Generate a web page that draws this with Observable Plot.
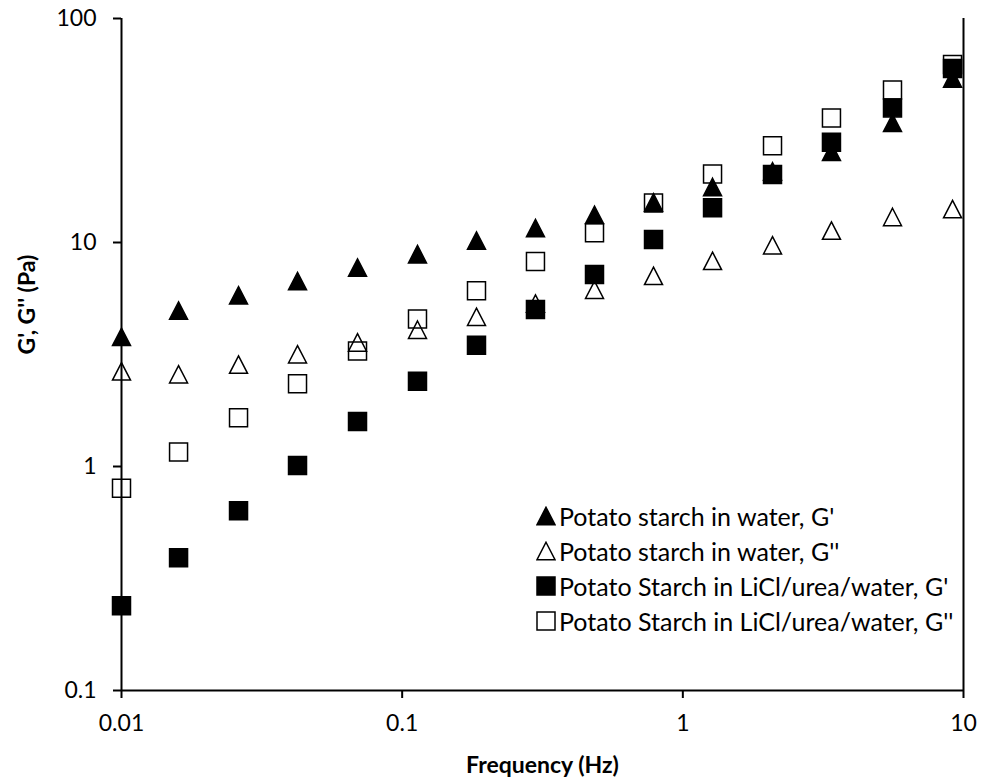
<!DOCTYPE html>
<html>
<head>
<meta charset="utf-8">
<script src="https://cdn.jsdelivr.net/npm/d3@7"></script>
<script src="https://cdn.jsdelivr.net/npm/@observablehq/plot@0.6"></script>
<style>
  html, body { margin: 0; padding: 0; background: #fff; }
  #wrap { position: relative; width: 985px; height: 781px; font-family: Lato, sans-serif; }
  #legend { position: absolute; left: 536px; top: 498px; font-family: Lato, sans-serif; font-size: 25px; color: #000; }
  #legend .row { display: flex; align-items: center; height: 35px; white-space: nowrap; }
  #legend svg { margin-right: 3px; }
</style>
</head>
<body>
<div id="wrap"></div>
<script>
// Frequency (Hz)
const freq = [0.01, 0.01597, 0.02612, 0.04238, 0.06933, 0.1134, 0.1840, 0.2985, 0.4845, 0.7862, 1.276, 2.087, 3.385, 5.585, 9.14];
// Potato starch in water, G'
const waterGp  = [3.79, 4.97, 5.81, 6.73, 7.73, 8.87, 10.2, 11.6, 13.3, 15.1, 17.7, 20.8, 25.4, 34.2, 54.0];
// Potato starch in water, G''
const waterGpp = [2.66, 2.58, 2.85, 3.17, 3.58, 4.08, 4.66, 5.34, 6.15, 7.1, 8.28, 9.72, 11.3, 13.0, 14.1];
// Potato Starch in LiCl/urea/water, G'
const licGp    = [0.239, 0.391, 0.634, 1.01, 1.59, 2.40, 3.48, 5.02, 7.2, 10.3, 14.3, 20.1, 28.0, 39.9, 59.8];
// Potato Starch in LiCl/urea/water, G''
const licGpp   = [0.80, 1.16, 1.65, 2.34, 3.28, 4.55, 6.09, 8.23, 11.05, 15.0, 20.2, 27.0, 36.0, 47.9, 62.3];

const seriesNames = [
  "Potato starch in water, G'",
  "Potato starch in water, G''",
  "Potato Starch in LiCl/urea/water, G'",
  "Potato Starch in LiCl/urea/water, G''"
];
const seriesValues = [waterGp, waterGpp, licGp, licGpp];
const seriesShape = ["triangle", "triangle", "square", "square"];
const seriesFilled = [true, false, true, false];

const xTicks = [0.01, 0.1, 1, 10];
const yTicks = [0.1, 1, 10, 100];
const xTitle = "Frequency (Hz)";
const yTitle = "G', G'' (Pa)";

// Custom marker shapes (Excel-like, centered on bounding box)
const triSym = {
  draw(ctx, size) {
    const r = Math.sqrt(size / Math.PI);
    const w = r, h = r * 0.97;
    ctx.moveTo(0, -h); ctx.lineTo(w, h); ctx.lineTo(-w, h); ctx.closePath();
  }
};
const sqSym = {
  draw(ctx, size) {
    const r = Math.sqrt(size / Math.PI);
    ctx.rect(-r, -r, 2 * r, 2 * r);
  }
};
const symFor = s => s === "triangle" ? triSym : sqSym;

const marks = [];
seriesValues.forEach((vals, i) => {
  const data = freq.map((f, j) => ({f, v: vals[j]}));
  marks.push(Plot.dot(data, {
    x: "f", y: "v",
    symbol: symFor(seriesShape[i]),
    r: 9,
    fill: seriesFilled[i] ? "black" : "none",
    stroke: "black",
    strokeWidth: 1.5
  }));
});

const chart = Plot.plot({
  width: 985,
  height: 781,
  marginLeft: 121,
  marginRight: 22,
  marginTop: 18,
  marginBottom: 91,
  style: {fontFamily: "Lato, sans-serif", background: "white", color: "black"},
  x: {type: "log", domain: [0.01, 10]},
  y: {type: "log", domain: [0.1, 100]},
  marks: [
    Plot.axisX({ticks: xTicks, tickSize: 8, tickPadding: 16, strokeWidth: 2, fontSize: 23, tickFormat: d => String(d), label: null}),
    Plot.axisY({ticks: yTicks, tickSize: 8, tickPadding: 17, strokeWidth: 2, fontSize: 23, tickFormat: d => String(d), label: null}),
    Plot.ruleX([0.01], {strokeWidth: 2}),
    Plot.ruleX([10], {strokeWidth: 2}),
    Plot.ruleY([0.1], {strokeWidth: 2}),
    ...marks,
    Plot.text([xTitle], {text: d => d, frameAnchor: "bottom", dy: 75, fontSize: 23, fontWeight: "bold", lineAnchor: "middle"}),
    Plot.text([yTitle], {text: d => d, frameAnchor: "left", dx: -94, rotate: -90, fontSize: 23, fontWeight: "bold", lineAnchor: "middle"})
  ]
});
const wrap = document.getElementById("wrap");
wrap.appendChild(chart);

// Legend (overlay inside the plot area, bottom right)
const legend = document.createElement("div");
legend.id = "legend";
seriesNames.forEach((name, i) => {
  const row = document.createElement("div");
  row.className = "row";
  const svg = d3.create("svg").attr("width", 20).attr("height", 20);
  const p = d3.path();
  symFor(seriesShape[i]).draw(p, 9 * 9 * Math.PI);
  svg.append("path").attr("transform", "translate(10,10)").attr("d", p.toString())
    .attr("fill", seriesFilled[i] ? "black" : "none").attr("stroke", "black").attr("stroke-width", 1.5);
  row.appendChild(svg.node());
  const span = document.createElement("span");
  span.textContent = name;
  row.appendChild(span);
  legend.appendChild(row);
});
wrap.appendChild(legend);
</script>
</body>
</html>
